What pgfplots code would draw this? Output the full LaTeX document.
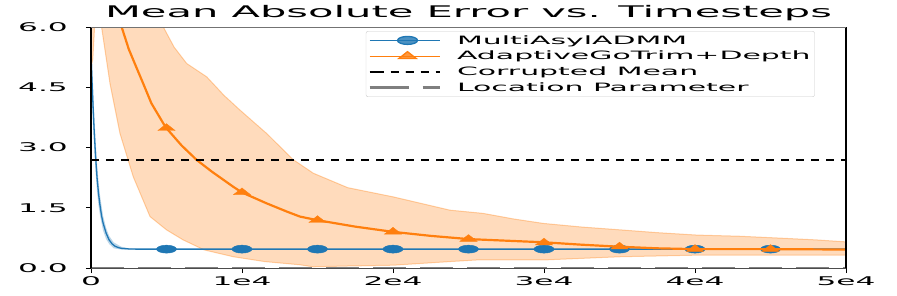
\documentclass[border=0pt]{standalone}
\usepackage{fontspec}
\setmainfont{DejaVu Sans}[FakeStretch=2.6]
\usepackage{pgfplots}
\pgfplotsset{compat=1.18}
\definecolor{tabblue}{HTML}{1F77B4}
\definecolor{taborange}{HTML}{FF7F0E}
\definecolor{locgray}{HTML}{7F7F7F}
\newcommand{\smallf}{\fontsize{12}{14}\selectfont}
\newcommand{\legf}{\fontsize{11.5}{14}\selectfont}
\begin{document}
\begin{tikzpicture}
\begin{axis}[
  scale only axis, width=755pt, height=241pt,
  xmin=0, xmax=50000, ymin=0, ymax=6,
  clip mode=individual,
  xtick={0,10000,20000,30000,40000,50000},
  xticklabels={0,1e4,2e4,3e4,4e4,5e4},
  ytick={0,1.5,3,4.5,6},
  yticklabels={0.0,1.5,3.0,4.5,6.0},
  scaled x ticks=false,
  tick align=outside, xtick pos=bottom, ytick pos=left,
  major tick length=5pt,
  tick style={black, line width=0.8pt},
  axis line style={draw=none},
  ticklabel style={font=\smallf},
  yticklabel style={anchor=east, inner sep=0pt, xshift=-18pt},
  /pgf/number format/assume math mode=true,
  title={Mean Absolute Error vs. Timesteps},
  title style={font=\fontsize{16}{19}\selectfont, at={(0.5,1)}, anchor=base, yshift=4pt, inner sep=0pt},
  legend style={at={(0.364,0.983)}, anchor=north west, draw=black!20, rounded corners=2pt,
    fill=white, fill opacity=0.8, text opacity=1, font=\legf, inner sep=2pt,
    row sep=1.5pt, nodes={inner sep=2pt},
    /tikz/every odd column/.append style={column sep=14pt}},
  legend cell align=left,
  legend image code/.code={\path (0pt,0pt) -- (6pt,0pt); \draw[mark repeat=2,mark phase=2,#1] plot coordinates {(6pt,0pt) (38pt,0pt) (70pt,0pt)};},
]
% orange band
\addplot[draw=taborange, draw opacity=0.35, line width=1pt, fill=taborange, fill opacity=0.28, forget plot] coordinates {
(0,14) (2000,11) (3500,8) (4790,6.0) (5500,5.5) (6340,5.09) (7660,4.76) (8800,4.3) (9870,3.93) (11630,3.35) (13380,2.7) (14720,2.36) (17000,2.0) (20020,1.77) (23770,1.44) (25960,1.36) (28000,1.22) (29950,1.11) (32500,1.02) (35030,0.95) (37500,0.88) (40110,0.82) (43000,0.79) (45850,0.74) (48000,0.7) (50000,0.65)
(50000,0.32) (45000,0.32) (40110,0.32) (35030,0.28) (29950,0.2) (25540,0.2) (23770,0.16) (20020,0.07) (17000,0.05) (14720,0.03) (13840,0.08) (11500,0.16) (9430,0.28) (7500,0.45) (6100,0.70) (5000,0.95) (3910,1.28) (2800,2.27) (1920,3.35) (1260,4.59) (700,6.0) (400,6.6) (250,6.1) (120,5.2) (0,5.0)
} -- cycle;
% blue band
\addplot[draw=none, fill=tabblue, fill opacity=0.3, forget plot] coordinates {
(0,5.9) (100,4.9) (200,3.95) (300,3.2) (400,2.6) (500,2.15) (600,1.8) (800,1.3) (1000,1.0) (1200,0.8) (1500,0.64) (2000,0.53) (2500,0.49) (3000,0.48)
(3000,0.46) (2500,0.46) (2000,0.46) (1500,0.49) (1200,0.6) (1000,0.72) (800,0.93) (600,1.3) (500,1.55) (400,1.9) (300,2.4) (200,3.05) (100,3.8) (0,4.7)
} -- cycle;
% blue line
\addplot[tabblue, line width=1.3pt, forget plot] coordinates {
(0,5.3) (100,4.35) (200,3.5) (300,2.8) (400,2.25) (500,1.85) (600,1.55) (700,1.3) (800,1.12) (1000,0.87) (1200,0.7) (1400,0.6) (1600,0.54) (1800,0.51) (2000,0.49) (2500,0.475) (3000,0.47) (50000,0.47)
};
\addplot[tabblue, only marks, mark=*, mark size=4pt, mark options={xscale=2.5}, forget plot] coordinates {
(5000,0.47) (10000,0.47) (15000,0.47) (20000,0.47) (25000,0.47) (30000,0.47) (35000,0.47) (40000,0.47) (45000,0.47)
};
% orange line
\addplot[taborange, line width=2.2pt, forget plot] coordinates {
(500,10) (1000,8.5) (1500,7) (2030,6.0) (2500,5.45) (3000,5.0) (3460,4.59) (4000,4.1) (4790,3.6) (5000,3.48) (6000,3.05) (7000,2.69) (8000,2.4) (9430,2.02) (10000,1.88) (11630,1.61) (13000,1.4) (13840,1.28) (15000,1.19) (17500,1.03) (20000,0.90) (22500,0.8) (25000,0.72) (27500,0.68) (30000,0.64) (32500,0.58) (35000,0.53) (37500,0.49) (40000,0.47) (45000,0.47) (50000,0.46)
};
\addplot[taborange, only marks, mark=triangle*, mark size=4.5pt, mark options={xscale=2.2}, forget plot] coordinates {
(5000,3.48) (10000,1.88) (15000,1.19) (20000,0.90) (25000,0.72) (30000,0.63) (35000,0.53) (40000,0.47) (45000,0.47)
};
% reference lines
\addplot[black, line width=2pt, dash pattern=on 8pt off 7pt, forget plot] coordinates {(0,2.7) (50000,2.7)};
\addplot[locgray, line width=3pt, dash pattern=on 33pt off 14pt, forget plot] coordinates {(0,0) (50000,0)};
% legend entries
\addlegendimage{tabblue, line width=1.3pt, mark=*, mark size=4pt, mark options={xscale=2.5}}
\addlegendentry{MultiAsylADMM}
\addlegendimage{taborange, line width=1.3pt, mark=triangle*, mark size=4.5pt, mark options={xscale=2.2}}
\addlegendentry{AdaptiveGoTrim+Depth}
\addlegendimage{black, line width=2pt, dash pattern=on 8pt off 7pt}
\addlegendentry{Corrupted Mean}
\addlegendimage{locgray, line width=3pt, dash pattern=on 33pt off 14pt}
\addlegendentry{Location Parameter}
% spines
\draw[black, line width=1.5pt] (rel axis cs:0,0) -- (rel axis cs:0,1);
\draw[black, line width=1.5pt] (rel axis cs:1,0) -- (rel axis cs:1,1);
\draw[black!55, line width=0.8pt] (rel axis cs:0,1) -- (rel axis cs:1,1);
\draw[black!70, line width=0.6pt] (rel axis cs:0,0) -- (rel axis cs:1,0);
\end{axis}
\pgfresetboundingbox
\path ([xshift=-91pt,yshift=-27pt]current axis.south west) rectangle ++(897pt,295pt);
\end{tikzpicture}
\end{document}
